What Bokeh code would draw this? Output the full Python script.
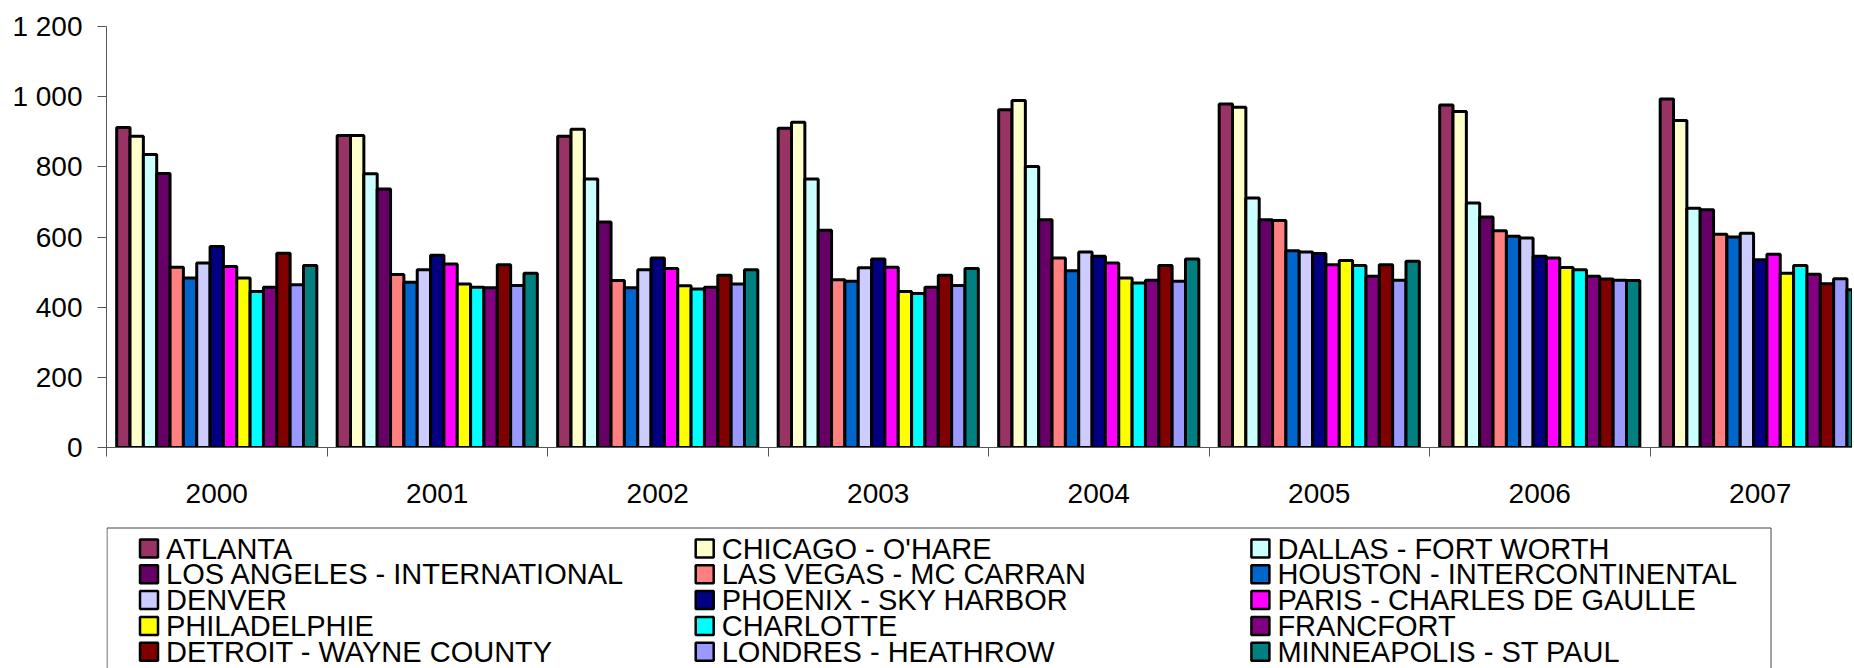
from bokeh.plotting import figure
from bokeh.models import Range1d, FixedTicker, ColumnDataSource
from bokeh.transform import dodge
from bokeh.layouts import column
from bokeh.core.properties import value
from bokeh.embed import file_html
from bokeh.resources import INLINE

# ---------------- data ----------------
years = [2000, 2001, 2002, 2003, 2004, 2005, 2006, 2007]
airports = ["ATLANTA", "CHICAGO - O'HARE", "DALLAS - FORT WORTH",
            "LOS ANGELES - INTERNATIONAL", "LAS VEGAS - MC CARRAN", "HOUSTON - INTERCONTINENTAL",
            "DENVER", "PHOENIX - SKY HARBOR", "PARIS - CHARLES DE GAULLE",
            "PHILADELPHIE", "CHARLOTTE", "FRANCFORT",
            "DETROIT - WAYNE COUNTY", "LONDRES - HEATHROW", "MINNEAPOLIS - ST PAUL"]
colors = ["#993366", "#FFFFCC", "#CCFFFF", "#660066", "#FF8080", "#0066CC",
          "#CCCCFF", "#000080", "#FF00FF", "#FFFF00", "#00FFFF", "#800080",
          "#800000", "#9999FF", "#008080"]

atlanta      = [912, 889, 887, 910, 963, 979, 976, 993]
chicago      = [887, 889, 907, 927, 989, 970, 958, 932]
dallas       = [835, 780, 765, 765, 801, 711, 697, 682]
los_angeles  = [781, 737, 643, 619, 649, 649, 657, 678]
las_vegas    = [514, 493, 476, 478, 540, 647, 618, 608]
houston      = [483, 471, 455, 474, 504, 561, 602, 600]
denver       = [526, 507, 507, 512, 557, 557, 597, 611]
phoenix      = [573, 548, 540, 537, 545, 553, 545, 535]
paris        = [516, 523, 510, 514, 526, 521, 540, 551]
philadelphie = [483, 466, 461, 445, 483, 533, 513, 497]
charlotte    = [445, 457, 452, 439, 469, 519, 507, 519]
francfort    = [457, 455, 457, 457, 477, 488, 488, 494]
detroit      = [554, 521, 491, 491, 519, 521, 480, 467]
londres      = [464, 462, 466, 462, 474, 477, 477, 481]
minneapolis  = [519, 497, 507, 510, 537, 531, 476, 450]

series = [atlanta, chicago, dallas, los_angeles, las_vegas, houston, denver, phoenix,
          paris, philadelphie, charlotte, francfort, detroit, londres, minneapolis]

y_ticks = [0, 200, 400, 600, 800, 1000, 1200]

# ---------------- layout constants (pixels) ----------------
W = 1852
H_TOP = 520
H_LEG = 148
FRAME_LEFT = 106
BORDER_TOP = 26
BORDER_BOTTOM = 73
GROUP_PX = 220.5
FONT = "Liberation Sans"
AXIS_COLOR = "#555555"

x_start = years[0] - 0.5
x_end = x_start + (W - FRAME_LEFT) / GROUP_PX

p = figure(width=W, height=H_TOP, output_backend="svg", toolbar_location=None,
           x_range=Range1d(x_start, x_end), y_range=Range1d(0, 1200),
           min_border_left=FRAME_LEFT, min_border_right=0,
           min_border_top=BORDER_TOP, min_border_bottom=BORDER_BOTTOM)
p.grid.visible = False
p.outline_line_color = None
p.background_fill_color = "white"
p.border_fill_color = "white"

n = len(series)
bw = 0.9077 / n
src = {"year": years}
for j, s in enumerate(series):
    src[f"s{j}"] = s
source = ColumnDataSource(src)

for j in range(n):
    p.vbar(x=dodge("year", (j - (n - 1) / 2) * bw), top=f"s{j}", width=bw, bottom=0,
           source=source, fill_color=colors[j], line_color="black", line_width=3)

# value axis
p.yaxis.ticker = FixedTicker(ticks=y_ticks)
p.yaxis.major_label_overrides = {t: f"{t:,}".replace(",", " ") for t in y_ticks}
p.yaxis.major_tick_in = 0
p.yaxis.major_tick_out = 9
p.yaxis.minor_tick_in = 0
p.yaxis.minor_tick_out = 0
p.yaxis.major_label_standoff = 15
p.yaxis.axis_line_color = AXIS_COLOR
p.yaxis.major_tick_line_color = AXIS_COLOR

# category axis: labels at group centres, ticks at group boundaries
p.xaxis.ticker = FixedTicker(ticks=years,
                             minor_ticks=[y - 0.5 for y in years] + [years[-1] + 0.5])
p.xaxis.major_tick_in = 0
p.xaxis.major_tick_out = 0
p.xaxis.minor_tick_in = 0
p.xaxis.minor_tick_out = 9
p.xaxis.major_label_standoff = 27
p.xaxis.axis_line_color = AXIS_COLOR
p.xaxis.minor_tick_line_color = AXIS_COLOR

for ax in (p.xaxis, p.yaxis):
    ax.major_label_text_font = FONT
    ax.major_label_text_font_size = "28px"
    ax.major_label_text_color = "black"

# ---------------- legend figure (data units = page pixels) ----------------
leg = figure(width=W, height=H_LEG, output_backend="svg", toolbar_location=None,
             x_range=Range1d(FRAME_LEFT, W), y_range=Range1d(H_TOP + H_LEG, H_TOP),
             x_axis_location=None, y_axis_location=None,
             min_border_left=FRAME_LEFT, min_border_right=0,
             min_border_top=0, min_border_bottom=0)
leg.grid.visible = False
leg.outline_line_color = None
leg.background_fill_color = "white"
leg.border_fill_color = "white"

NCOL = 3
COL0_X = 148.5
COL_DX = 555.7
ROW0_Y = 548.0
ROW_DY = 25.8
sq_x = [COL0_X + (i % NCOL) * COL_DX for i in range(n)]
sq_y = [ROW0_Y + (i // NCOL) * ROW_DY for i in range(n)]
leg_src = ColumnDataSource(dict(x=sq_x, y=sq_y, tx=[v + 17.0 for v in sq_x],
                                name=airports, color=colors))

# legend box (its bottom edge lies below the visible area)
box_l, box_r, box_t, box_b = FRAME_LEFT + 0.5, 1770.5, 527.5, 720
leg.line(x=[box_l, box_l, box_r, box_r], y=[box_b, box_t, box_t, box_b],
         line_color="#444444", line_width=1)

leg.rect(x="x", y="y", width=18, height=18, source=leg_src,
         fill_color="color", line_color="black", line_width=2.5)
leg.text(x="tx", y="y", text="name", source=leg_src,
         text_font=value(FONT), text_font_size="29px", text_color="black",
         text_align="left", text_baseline="middle")

layout = column(p, leg, spacing=0)

open("out.html", "w").write(file_html(layout, INLINE))
